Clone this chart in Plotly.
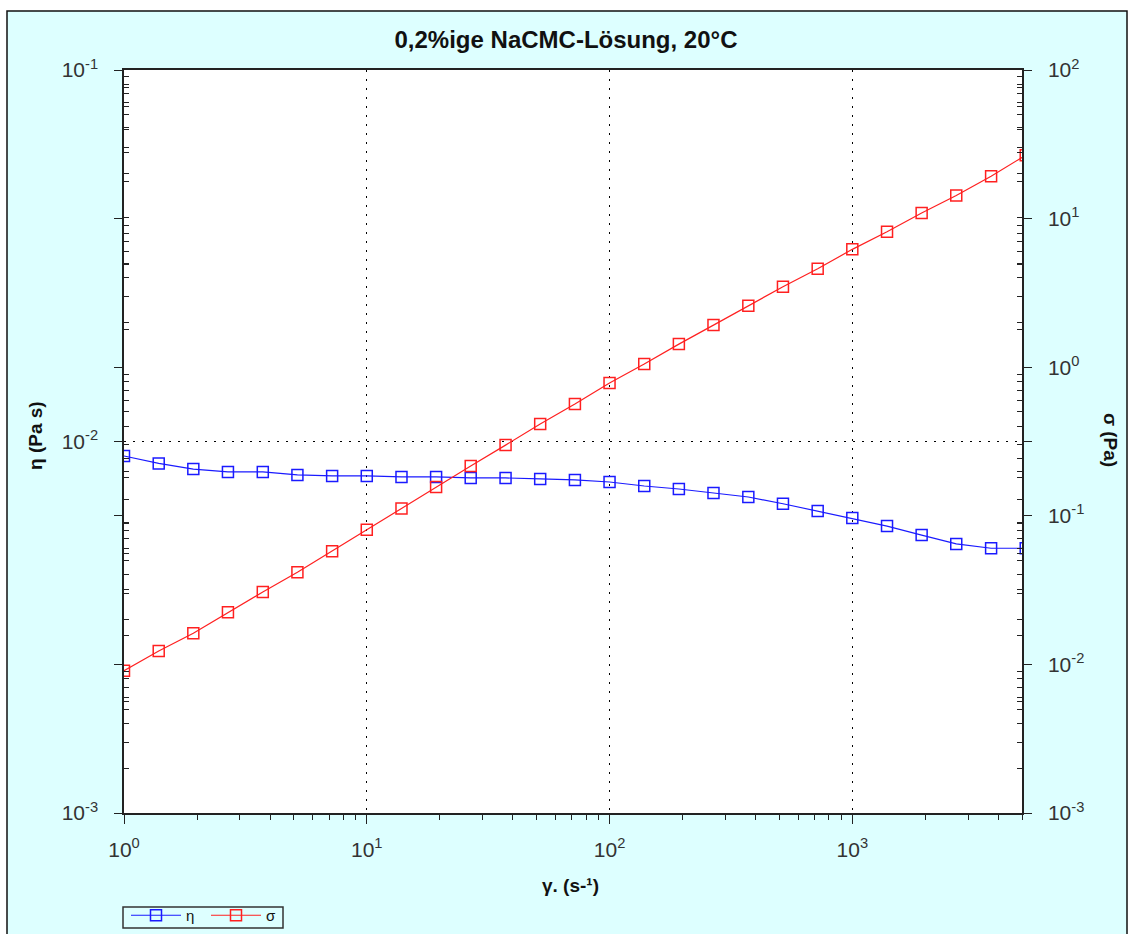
import math
import plotly.graph_objects as go

# Flow curve of a 0.2 % NaCMC solution at 20 °C
shear_rate = [1.0, 1.39, 1.93, 2.68, 3.73, 5.18, 7.20, 10.0, 13.9, 19.3, 26.8, 37.3, 51.8, 72.0,
              100, 139, 193, 268, 373, 518, 720, 1000, 1390, 1930, 2680, 3730, 5180]
viscosity = [0.00914, 0.00873, 0.00843, 0.00828, 0.00828, 0.00813, 0.00808, 0.00808, 0.00803,
             0.00803, 0.00798, 0.00798, 0.00793, 0.00788, 0.00778, 0.00759, 0.00745, 0.00727,
             0.00709, 0.00680, 0.00650, 0.00622, 0.00592, 0.00560, 0.00530, 0.00516, 0.00516]
shear_stress = [0.00907, 0.0123, 0.0162, 0.0224, 0.0307, 0.0417, 0.0577, 0.0807, 0.112, 0.156,
                0.216, 0.299, 0.415, 0.565, 0.783, 1.05, 1.43, 1.92, 2.59, 3.48, 4.60, 6.21,
                8.16, 10.9, 14.3, 19.3, 26.7]

x_tick_vals = [1, 10, 100, 1000]
x_tick_text = ["10<sup>0</sup>", "10<sup>1</sup>", "10<sup>2</sup>", "10<sup>3</sup>"]
eta_tick_vals = [1e-3, 1e-2, 1e-1]
eta_tick_text = ["10<sup>-3</sup>", "10<sup>-2</sup>", "10<sup>-1</sup>"]
sigma_tick_vals = [1e-3, 1e-2, 1e-1, 1, 10, 100]
sigma_tick_text = ["10<sup>-3</sup>", "10<sup>-2</sup>", "10<sup>-1</sup>",
                   "10<sup>0</sup>", "10<sup>1</sup>", "10<sup>2</sup>"]

X_MAX = 5000
FONT = "Liberation Sans, Arial, sans-serif"
AXIS_COLOR = "#222222"
LABEL_COLOR = "#333333"
BG_CYAN = "#DDFFFF"
GRID_DASH = "2px,7px"

# plot area in pixels
L, R, T, B = 124, 1022, 70, 813
W, H = 1132, 934


def minor_vals(lo_exp, hi_exp):
    return [m * 10 ** e for e in range(lo_exp, hi_exp) for m in range(2, 10)]


def px_x(px):
    return (px - L) / (R - L)


def px_y(py):
    return (B - py) / (B - T)


fig = go.Figure()
fig.add_trace(go.Scatter(
    x=shear_rate, y=viscosity, name="η", mode="lines+markers",
    line=dict(color="#1a1aff", width=1.2),
    marker=dict(symbol="square-open", size=11, color="#1a1aff", line=dict(width=1.5)),
    xaxis="x", yaxis="y",
))
fig.add_trace(go.Scatter(
    x=shear_rate, y=shear_stress, name="σ", mode="lines+markers",
    line=dict(color="#ff2020", width=1.2),
    marker=dict(symbol="square-open", size=11, color="#ff2020", line=dict(width=1.5)),
    xaxis="x", yaxis="y2",
))

x_range = [0, math.log10(X_MAX)]
tick_font = dict(family=FONT, size=21, color=LABEL_COLOR)
title_font = dict(family=FONT, size=19, color="#111111")

fig.update_layout(
    width=W, height=H,
    margin=dict(l=L, r=W - R, t=T, b=H - B, autoexpand=False),
    paper_bgcolor=BG_CYAN,
    plot_bgcolor="white",
    font=dict(family=FONT, color="#000000"),
    title=dict(text="<b>0,2%ige NaCMC-Lösung, 20°C</b>", x=0.5, xanchor="center",
               y=1 - 40 / H, yanchor="middle",
               font=dict(family=FONT, size=24, color="#111111")),
    xaxis=dict(
        type="log", range=x_range, tickmode="array", tickvals=x_tick_vals, ticktext=x_tick_text,
        tickfont=tick_font, ticks="outside", ticklen=9, tickwidth=1.2, tickcolor=AXIS_COLOR,
        ticklabelstandoff=8, automargin=False,
        minor=dict(tickmode="array", tickvals=minor_vals(0, 4), ticks="outside", ticklen=5,
                   tickwidth=1.2, tickcolor=AXIS_COLOR, showgrid=False),
        showline=True, linecolor=AXIS_COLOR, linewidth=1.5, mirror=True,
        showgrid=True, gridcolor="#000000", gridwidth=1, griddash=GRID_DASH,
        zeroline=False,
    ),
    xaxis2=dict(
        type="log", range=x_range, overlaying="x", side="top", anchor="y",
        tickmode="array", tickvals=x_tick_vals, showticklabels=False,
        ticks="inside", ticklen=6, tickwidth=1.2, tickcolor=AXIS_COLOR,
        minor=dict(tickmode="array", tickvals=minor_vals(0, 4), ticks="inside", ticklen=4,
                   tickwidth=1.2, tickcolor=AXIS_COLOR, showgrid=False),
        showline=False, showgrid=False, zeroline=False, automargin=False,
    ),
    yaxis=dict(
        type="log", range=[-3, -1], tickmode="array", tickvals=eta_tick_vals, ticktext=eta_tick_text,
        tickfont=tick_font, ticks="outside", ticklen=8, tickwidth=1.2, tickcolor=AXIS_COLOR,
        ticklabelstandoff=12, automargin=False,
        minor=dict(tickmode="array", tickvals=minor_vals(-3, -1), ticks="inside", ticklen=5,
                   tickwidth=1.2, tickcolor=AXIS_COLOR, showgrid=False),
        showline=True, linecolor=AXIS_COLOR, linewidth=1.5, mirror="allticks",
        showgrid=True, gridcolor="#000000", gridwidth=1, griddash=GRID_DASH,
        zeroline=False,
    ),
    yaxis2=dict(
        type="log", range=[-3, 2], overlaying="y", side="right", anchor="x",
        tickmode="array", tickvals=sigma_tick_vals, ticktext=sigma_tick_text,
        tickfont=tick_font, ticks="outside", ticklen=8, tickwidth=1.2, tickcolor=AXIS_COLOR,
        ticklabelstandoff=12, automargin=False,
        minor=dict(tickmode="array", tickvals=minor_vals(-3, 2), ticks="inside", ticklen=5,
                   tickwidth=1.2, tickcolor=AXIS_COLOR, showgrid=False),
        showline=True, linecolor=AXIS_COLOR, linewidth=1.5, mirror="allticks",
        showgrid=False, zeroline=False,
    ),
    legend=dict(
        orientation="h", xref="container", yref="container",
        x=126 / W, xanchor="left", y=(H - 899) / H, yanchor="top",
        bgcolor="rgba(0,0,0,0)", borderwidth=0,
        font=dict(family=FONT, size=15, color="#111111"),
        entrywidth=15, entrywidthmode="pixels",
        tracegroupgap=0, itemwidth=50,
    ),
    showlegend=True,
)

# Frame around the legend
fig.add_shape(type="rect", xref="paper", yref="paper",
              x0=px_x(123), x1=px_x(283), y0=px_y(928), y1=px_y(907),
              line=dict(color="#333333", width=1.5), fillcolor="rgba(0,0,0,0)", layer="above")

# Axis titles as annotations (the right-hand one reads top to bottom)
fig.add_annotation(text="<b>η (Pa s)</b>", xref="paper", yref="paper",
                   x=px_x(35), y=px_y(436), xanchor="center", yanchor="middle",
                   textangle=-90, showarrow=False, font=title_font)
fig.add_annotation(text="<b>σ (Pa)</b>", xref="paper", yref="paper",
                   x=px_x(1111), y=px_y(440), xanchor="center", yanchor="middle",
                   textangle=90, showarrow=False, font=title_font)
fig.add_annotation(text="<b>γ. (s-¹)</b>", xref="paper", yref="paper",
                   x=px_x(570), y=px_y(885), xanchor="center", yanchor="middle",
                   showarrow=False, font=title_font)

# Outer frame: thin black border with white strips outside it
white_strips = [
    (px_x(0), px_x(7), px_y(945), px_y(0)),
    (px_x(0), px_x(W), px_y(11), px_y(0)),
    (px_x(1127), px_x(W), px_y(945), px_y(0)),
]
for x0, x1, y0, y1 in white_strips:
    fig.add_shape(type="rect", xref="paper", yref="paper", x0=x0, x1=x1, y0=y0, y1=y1,
                  fillcolor="white", line=dict(width=0), layer="below")
fig.add_shape(type="rect", xref="paper", yref="paper",
              x0=px_x(7), x1=px_x(1127), y0=px_y(945), y1=px_y(11),
              line=dict(color="#111111", width=1.5), fillcolor="rgba(0,0,0,0)", layer="above")

fig.write_html("out.html")
